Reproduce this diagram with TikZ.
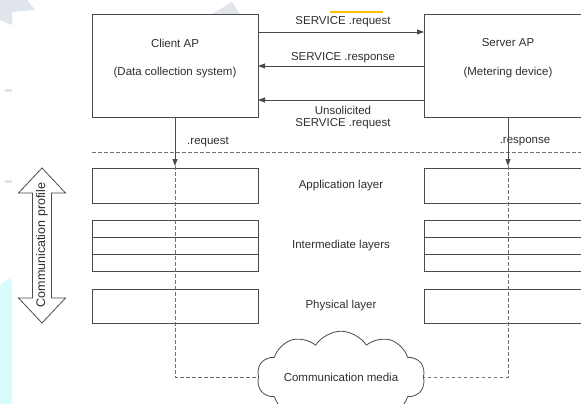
\documentclass[tikz,border=0pt]{standalone}
\usepackage{fontspec}
\setmainfont{Liberation Sans}
\usetikzlibrary{shapes.symbols,arrows.meta}
\definecolor{linec}{HTML}{4A4A4A}
\definecolor{dashc}{HTML}{707070}
\definecolor{textc}{HTML}{2E2E2E}
\definecolor{bggray}{HTML}{DFE5EA}
\definecolor{bgcyan}{HTML}{D8FBFB}
\definecolor{hiyel}{HTML}{FFC000}
\begin{document}
\begin{tikzpicture}[x=1pt,y=-1pt,
  box/.style={draw=linec, line width=0.8pt, fill=white, inner sep=0pt, outer sep=0pt},
  lbl/.style={text=textc, font=\fontsize{11.5}{13}\selectfont, inner sep=0pt},
  msg/.style={draw=linec, line width=0.8pt, -{Triangle[length=7pt,width=5pt]}},
  dsh/.style={draw=dashc, line width=0.8pt, dash pattern=on 3.5pt off 2.5pt},
  layline/.style={draw=linec, line width=0.8pt},
]
\useasboundingbox (0,0) rectangle (581,404);
\clip (0,0) rectangle (581,404);
% faint background artefacts
\fill[bggray] (0,0) -- (27,0) -- (35,10) -- (12,12) -- (12,25) -- (0,20) -- cycle;
\fill[bggray] (212,14) -- (232,2) -- (240,14) -- cycle;
\fill[bggray] (5,89) rectangle (12,92);
\fill[bggray] (5,180) rectangle (12,183);
\fill[bgcyan] (0,285) -- (10,278) -- (12,283) -- (12,404) -- (0,404) -- cycle;
\fill[hiyel] (330,11) rectangle (383,13);

% application boxes
\node[box, minimum width=166pt, minimum height=103pt, anchor=north west] (client) at (92,14) {};
\node[box, minimum width=176pt, minimum height=103pt, anchor=north west] (server) at (424,14) {};
\node[lbl] (clientname) at (175,43) {Client AP};
\node[lbl] (clientdesc) at (175,73) {(Data collection system)};
\node[lbl] (servername) at (508,43) {Server AP};
\node[lbl] (serverdesc) at (508,73) {(Metering device)};

% messages
\draw[msg] (client.east |- 0,32) -- (server.west |- 0,32);
\node[lbl] (m1) at (343,22) {SERVICE .request};
\draw[msg] (server.west |- 0,66) -- (client.east |- 0,66);
\node[lbl] (m2) at (343,58) {SERVICE .response};
\draw[msg] (server.west |- 0,100) -- (client.east |- 0,100);
\node[lbl] (m3) at (343,110) {Unsolicited};
\node[lbl] (m4) at (343,124) {SERVICE .request};

% layer boxes
\node[box, minimum width=166pt, minimum height=35pt, anchor=north west] (capp) at (92,168) {};
\node[box, minimum width=166pt, minimum height=51pt, anchor=north west] (cint) at (92,220) {};
\node[box, minimum width=166pt, minimum height=34pt, anchor=north west] (cphy) at (92,289) {};
\node[box, minimum width=176pt, minimum height=35pt, anchor=north west] (sapp) at (424,168) {};
\node[box, minimum width=176pt, minimum height=51pt, anchor=north west] (sint) at (424,220) {};
\node[box, minimum width=176pt, minimum height=34pt, anchor=north west] (sphy) at (424,289) {};
\draw[layline] (cint.west |- 0,237) -- (cint.east |- 0,237);
\draw[layline] (cint.west |- 0,254) -- (cint.east |- 0,254);
\draw[layline] (sint.west |- 0,237) -- (sint.east |- 0,237);
\draw[layline] (sint.west |- 0,254) -- (sint.east |- 0,254);
\node[lbl] (lapp) at (341,186) {Application layer};
\node[lbl] (lint) at (341,246) {Intermediate layers};
\node[lbl] (lphy) at (341,306) {Physical layer};

% profile double arrow
\draw[draw=linec, line width=0.8pt, fill=white]
  (42,168) -- (65.5,193) -- (51.5,193) -- (51.5,298) -- (65.5,298) -- (42,323)
  -- (18.5,298) -- (32.5,298) -- (32.5,193) -- (18.5,193) -- cycle;
\node[lbl, font=\fontsize{12.5}{14}\selectfont, rotate=90] (profile) at (42,245) {Communication profile};

% service boundary
\coordinate (bl) at (92,152);
\coordinate (br) at (581,152);
\draw[dsh] (bl) -- (br);
\node[lbl] (req) at (208,142) {.request};
\node[lbl] (resp) at (525,142) {.response};

% cloud
\node[cloud, draw=linec, line width=0.8pt, fill=white, cloud puffs=10, cloud puff arc=115,
      aspect=2.4, minimum width=168pt, minimum height=72pt, lbl] (media) at (341,377) {Communication media};

% service primitives down to media
\coordinate (ctip) at (175,166);
\coordinate (stip) at (508,166);
\draw[msg] (client.south) -- (ctip);
\draw[msg] (server.south -| stip) -- (stip);
\draw[dsh] (ctip) -- (ctip |- media.west) -- (media.west);
\draw[dsh] (stip) -- (stip |- media.east) -- (media.east);
\end{tikzpicture}
\end{document}
